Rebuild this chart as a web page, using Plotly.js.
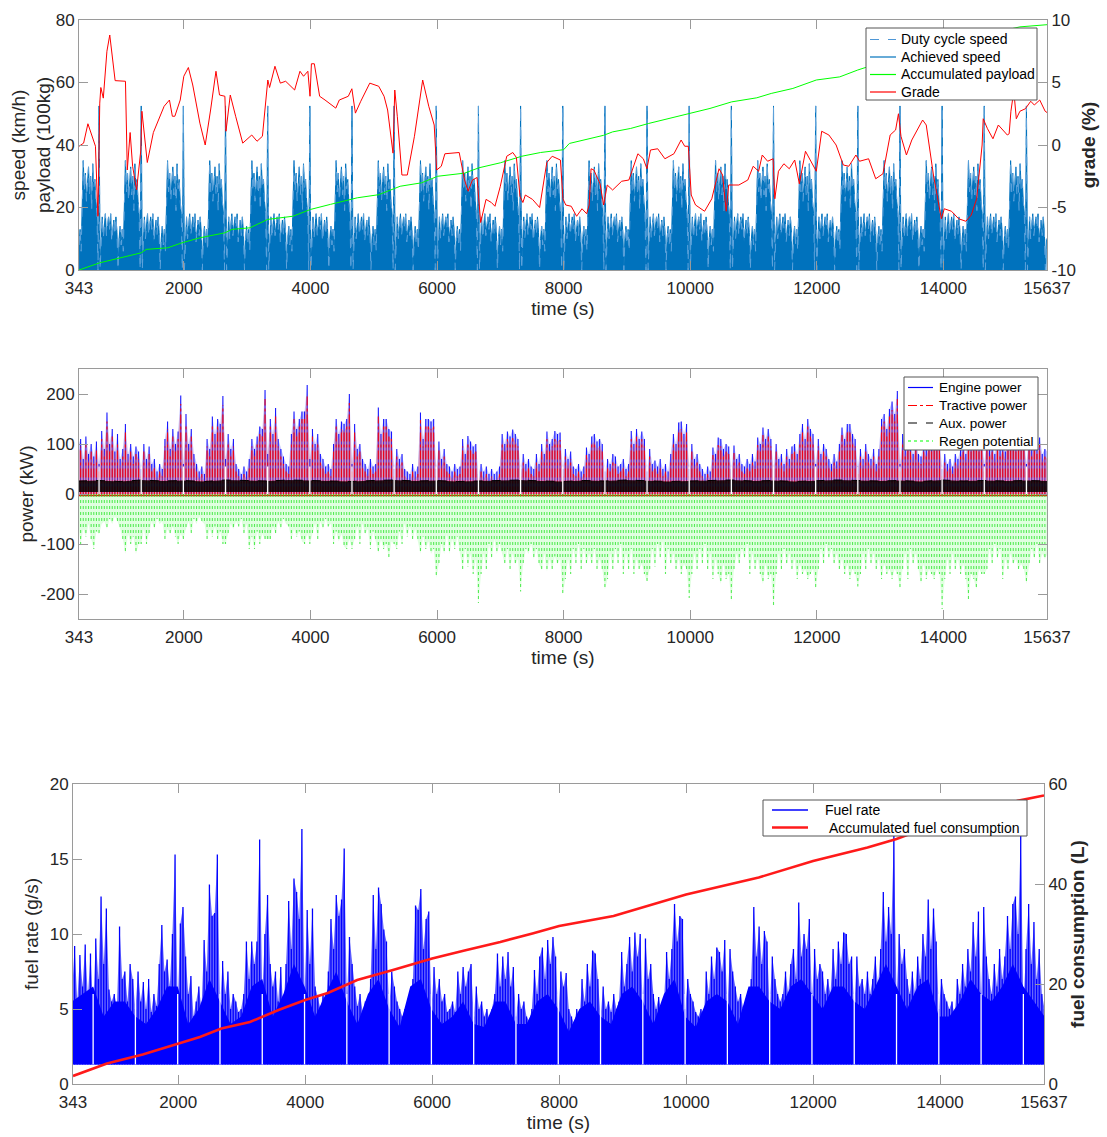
<!DOCTYPE html>
<html>
<head>
<meta charset="utf-8">
<script src="https://cdn.plot.ly/plotly-3.0.1.min.js"></script>
<style>
  html, body { margin: 0; padding: 0; background: #fff; }
  #chart { width: 1107px; height: 1137px; }
</style>
</head>
<body>
<div id="chart"></div>
<script>
// ---------------- DATA ----------------
const timeTicks = [343, 2000, 4000, 6000, 8000, 10000, 12000, 14000, 15637];

// Times (s) at which the vehicle stops at the end of each duty-cycle repetition
const stopTimes = [660, 1326, 1992, 2658, 3324, 3990, 4656, 5322, 5988, 6654, 7320, 7986,
                   8652, 9318, 9984, 10650, 11316, 11982, 12648, 13314, 13980, 14646, 15312];

// One repetition of the duty-cycle speed profile (km/h), one value every 16.65 s,
// starting one sample before the stop; the same cycle is driven over and over.
const cycleSpeed = [0, 52.5, 0, 12, 17, 10, 16, 18, 11, 15, 17, 13, 18, 9, 14, 16, 11, 17, 12, 0,
                    10, 14, 8, 13, 6, 20, 35, 25, 31, 22, 27, 33, 24, 30, 19, 34, 26, 29, 22, 18];
const cycleStep = 16.65;

// Accumulated payload (100 kg)
const payloadT = [343, 671, 896, 1100, 1326, 1405, 1744, 1970, 2253, 2648, 2761, 3044, 3326, 3721, 4004,
  4315, 4654, 4739, 5078, 5417, 5756, 6010, 6435, 6661, 7000, 7338, 7636, 8000, 8091, 8632, 8774, 9059,
  9344, 9572, 9999, 10312, 10654, 11052, 11280, 11622, 11992, 12362, 12647, 13045, 13330, 13672, 14014,
  14469, 14811, 15209, 15637];
const payloadV = [0, 2.3, 3.4, 4.5, 5.5, 6.6, 7.1, 8.7, 10.3, 11.9, 13, 13.5, 16.2, 17.2, 19.4,
  21, 22.6, 23.1, 24.1, 26.8, 27.9, 30, 31, 32.7, 34.3, 36.4, 37.6, 38.5, 40.5, 43.1, 44.2, 45.3,
  46.9, 48, 50.1, 51.7, 53.8, 55.1, 56.5, 58.1, 60.8, 61.8, 64, 66.6, 68.2, 70.9, 72.5,
  74.6, 76.2, 77.8, 78.5];

// Road grade (%)
const gradeT = [343, 416, 484, 546, 603, 642, 671, 688, 727, 784, 829, 914, 1077, 1106, 1151, 1190, 1253,
  1320, 1337, 1422, 1518, 1688, 1772, 1818, 1857, 1942, 1999, 2071, 2140, 2253, 2337, 2422, 2507, 2563,
  2648, 2665, 2733, 2818, 2930, 3072, 3156, 3241, 3326, 3354, 3439, 3524, 3608, 3750, 3834, 3891, 3959,
  3993, 4015, 4061, 4145, 4230, 4400, 4456, 4598, 4654, 4710, 4795, 4937, 5078, 5163, 5219, 5304, 5332,
  5372, 5445, 5530, 5643, 5773, 5869, 5955, 5994, 6067, 6124, 6350, 6435, 6491, 6559, 6632, 6689, 6774,
  6858, 6915, 7000, 7101, 7197, 7254, 7310, 7356, 7395, 7508, 7621, 7734, 7819, 7892, 7949, 7989, 8034,
  8120, 8205, 8290, 8364, 8404, 8433, 8478, 8575, 8632, 8689, 8774, 8917, 9031, 9088, 9173, 9259, 9316,
  9372, 9486, 9600, 9743, 9856, 9913, 9970, 10016, 10084, 10227, 10341, 10398, 10455, 10512, 10569, 10608,
  10654, 10768, 10910, 10995, 11081, 11138, 11223, 11309, 11337, 11394, 11480, 11565, 11651, 11724, 11821,
  11935, 11992, 12077, 12191, 12305, 12419, 12505, 12618, 12675, 12818, 12931, 13045, 13159, 13245, 13290,
  13330, 13416, 13501, 13672, 13729, 13843, 13928, 13968, 14014, 14128, 14241, 14355, 14441, 14526, 14612,
  14629, 14697, 14783, 14868, 14925, 15010, 15039, 15067, 15095, 15110, 15152, 15209, 15295, 15380, 15437,
  15522, 15608, 15637];
const gradeV = [-0.1, 0.15, 1.7, 0.7, -0.1, -5.7, 3.35, 4.6, 3.75, 7.5, 8.8, 5.15, 5.1, -2.0, 1.0, -1.7, -3.6,
  -0.4, 2.7, -1.4, 1.0, 3.1, 3.6, 2.3, 2.3, 3.6, 5.5, 6.2, 4.8, 1.75, 0.0, 2.8, 5.9, 4.0,
  3.9, 1.1, 4.0, 2.3, 0.15, 0.8, 0.3, 0.7, 5.2, 4.6, 6.3, 4.95, 5.1, 4.4, 5.9, 5.5, 5.9,
  3.9, 6.5, 6.5, 3.9, 3.6, 2.95, 3.6, 3.9, 4.5, 2.55, 3.5, 4.95, 4.7, 3.9, 2.8, -0.65, 4.4,
  2.3, -2.4, -2.4, 0.7, 5.2, 3.1, 1.6, -2.0, -1.7, -0.7, -0.6, -2.8, -3.7, -2.8, -2.6, -6.2, -4.35,
  -4.6, -4.9, -3.3, -0.9, -0.6, -1.0, -4.1, -4.6, -4.0, -4.35, -5.0, -1.4, -0.9, -1.1, -1.2, -4.3, -4.8,
  -4.9, -5.7, -5.1, -5.5, -4.8, -1.9, -2.0, -3.1, -4.8, -3.2, -3.6, -2.9, -2.8, -2.0, -0.7, -1.1, -1.9,
  -0.4, -0.3, -1.1, -0.7, 0.4, -0.1, -0.1, -4.0, -4.8, -5.3, -4.3, -3.2, -1.9, -2.4, -5.3, -3.2,
  -3.2, -3.2, -2.8, -1.7, -2.1, -0.8, -1.3, -1.1, -4.3, -2.1, -1.5, -1.9, -1.2, -3.1, -0.5,
  -1.6, -2.1, 1.1, 0.8, 0.0, -1.6, -1.7, -0.8, -1.3, -1.1, -2.7, -2.3, 0.8, 1.2, 2.5,
  0.7, -0.8, 0.4, 2.0, 1.6, -2.4, -4.8, -5.9, -5.1, -5.3, -5.9, -6.1, -5.6, -4.3, 0.0,
  2.1, 1.3, 0.5, 1.6, 1.3, 0.8, 0.9, 2.7, 3.7, 4.5, 2.1, 2.7, 2.9, 3.5, 3.2,
  3.6, 2.7, 2.6];

// Power and fuel rate: one value every 41.625 s starting at t = 327 s (16 per cycle)
const fineStart = 327, fineStep = 41.625;
const enginePower = [
  95,110,70,115,80,100,75,105,
  60,126,90,163,100,130,85,120,70,90,140,80,100,75,95,85,
  50,100,70,95,60,70,45,60,50,110,145,90,130,100,125,197,
  60,160,100,130,80,60,45,55,40,110,90,155,120,150,140,196,
  70,120,90,110,60,50,40,55,45,70,110,90,115,135,130,208,
  80,150,120,172,110,90,75,60,55,120,165,130,150,165,165,218,
  70,130,100,120,80,70,55,60,50,100,150,120,145,140,150,200,
  60,140,90,100,70,60,50,70,55,60,173,120,150,150,130,125,
  50,90,70,80,50,45,40,60,45,55,163,110,150,150,145,150,
  50,105,70,90,60,55,45,60,50,55,110,80,116,105,95,100,
  40,60,45,55,40,50,40,45,55,120,100,125,115,129,120,110,
  50,80,60,70,55,50,80,60,100,80,125,100,110,126,120,123,
  50,90,70,85,55,50,60,45,55,93,80,115,120,105,110,100,
  45,70,60,80,75,55,60,70,50,60,126,100,130,110,125,110,
  45,90,60,67,55,70,50,60,45,80,120,100,143,145,120,140,
  50,100,70,80,60,50,40,55,45,93,80,113,110,90,100,95,
  50,97,70,80,60,55,70,60,80,65,113,100,133,110,130,110,
  50,100,70,80,60,90,70,95,100,80,120,140,110,150,130,120,
  60,110,80,100,90,70,60,80,65,100,133,110,140,140,120,110,
  55,90,70,100,80,70,90,60,90,150,160,130,170,185,160,206,
  60,120,90,110,100,80,110,80,75,100,90,110,100,120,105,110,
  50,80,60,70,55,80,70,90,100,80,120,100,130,110,100,120,
  60,120,90,100,80,110,90,100,85,130,110,120,100,130,110,120,
  60,120,90,110,95,113,80,90,85
];
const tractivePower = [
  80,95,55,100,65,85,60,90,
  45,110,75,145,85,115,70,100,55,75,125,65,85,60,80,70,
  35,85,55,80,45,55,30,45,35,95,130,75,115,85,110,180,
  45,140,85,115,65,45,30,40,25,95,75,140,105,135,125,178,
  55,105,75,95,45,35,25,40,30,55,95,75,100,120,115,190,
  65,135,105,155,95,75,60,45,40,105,150,115,135,150,150,200,
  55,115,85,105,65,55,40,45,35,85,135,105,130,125,135,182,
  45,125,75,85,55,45,35,55,40,45,155,105,135,135,115,110,
  35,75,55,65,35,30,25,45,30,40,148,95,135,135,130,135,
  35,90,55,75,45,40,30,45,35,40,95,65,100,90,80,85,
  25,45,30,40,25,35,25,30,40,105,85,110,100,112,105,95,
  35,65,45,55,40,35,65,45,85,65,110,85,95,110,105,108,
  35,75,55,70,40,35,45,30,40,78,65,100,105,90,95,85,
  30,55,45,65,60,40,45,55,35,45,110,85,115,95,110,95,
  30,75,45,52,40,55,35,45,30,65,105,85,128,130,105,125,
  35,85,55,65,45,35,25,40,30,78,65,98,95,75,85,80,
  35,82,55,65,45,40,55,45,65,50,98,85,118,95,115,95,
  35,85,55,65,45,75,55,80,85,65,105,125,95,135,115,105,
  45,95,65,85,75,55,45,65,50,85,118,95,125,125,105,95,
  40,75,55,85,65,55,75,45,75,135,145,115,155,168,145,190,
  45,105,75,95,85,65,95,65,60,85,75,95,85,105,90,95,
  35,65,45,55,40,65,55,75,85,65,105,85,115,95,85,105,
  45,105,75,85,65,95,75,85,70,115,95,105,85,115,95,105,
  45,105,75,95,80,98,65,75,70
];
const tractiveBraking = -3;   // tractive power during braking (kW)
const regenPower = [
  -60,-100,-70,-85,-60,-90,-110,-75,
  -80,-60,-55,-70,-50,-60,-45,-55,-70,-90,-120,-80,-100,-85,-120,-100,
  -100,-70,-100,-80,-55,-70,-50,-60,-55,-90,-70,-80,-65,-85,-100,-80,
  -90,-70,-55,-80,-50,-60,-45,-55,-60,-90,-70,-85,-65,-90,-75,-100,
  -100,-80,-60,-70,-55,-65,-50,-80,-60,-110,-85,-110,-75,-100,-80,-90,
  -90,-90,-65,-80,-55,-70,-50,-60,-65,-90,-70,-85,-75,-95,-100,-80,
  -100,-80,-60,-90,-55,-70,-50,-65,-60,-100,-75,-95,-80,-105,-110,-90,
  -110,-90,-65,-100,-60,-80,-70,-110,-75,-95,-118,-90,-110,-100,-128,-95,
  -100,-110,-75,-100,-60,-85,-65,-90,-70,-95,-120,-85,-110,-95,-120,-110,
  -168,-140,-100,-120,-80,-120,-90,-110,-85,-120,-150,-110,-145,-120,-160,-130,
  -218,-160,-120,-150,-100,-130,-90,-120,-100,-120,-140,-110,-150,-120,-140,-130,
  -195,-140,-110,-120,-100,-130,-110,-140,-152,-120,-155,-130,-150,-125,-140,-130,
  -201,-170,-130,-160,-110,-140,-100,-150,-110,-140,-120,-140,-110,-150,-130,-150,
  -191,-170,-120,-150,-110,-140,-100,-160,-120,-150,-110,-160,-130,-150,-140,-160,
  -175,-150,-110,-145,-100,-130,-95,-160,-110,-140,-120,-150,-130,-160,-140,-150,
  -208,-160,-120,-150,-110,-140,-100,-150,-120,-170,-130,-160,-180,-140,-170,-160,
  -215,-150,-120,-140,-110,-130,-100,-160,-120,-150,-130,-160,-180,-140,-170,-160,
  -225,-160,-120,-150,-110,-140,-120,-150,-130,-170,-140,-160,-150,-170,-160,-150,
  -190,-150,-110,-140,-100,-130,-110,-140,-120,-150,-130,-160,-140,-170,-150,-160,
  -185,-160,-120,-150,-110,-140,-120,-150,-130,-170,-140,-160,-150,-170,-150,-160,
  -190,-150,-120,-170,-110,-140,-120,-150,-180,-140,-170,-150,-160,-170,-150,-160,
  -230,-170,-130,-160,-120,-150,-130,-160,-140,-170,-210,-160,-170,-190,-150,-160,
  -160,-150,-110,-140,-100,-130,-110,-170,-130,-150,-120,-140,-130,-150,-140,-150,
  -180,-140,-110,-130,-100,-140,-120,-130,-120
];
const fuelRate = [
  6.0,9.2,5.5,8.6,6.5,9.3,5.8,8.7,
  5.0,9.7,7.0,12.5,8.0,11.7,6.3,5.5,6.0,5.2,10.5,7.0,7.5,5.5,8.0,7.0,
  5.0,7.5,5.5,6.8,5.0,7.0,4.8,6.0,5.2,8.0,10.6,7.5,8.3,6.5,10.0,15.3,
  5.0,10.7,11.8,8.5,6.0,7.2,4.5,5.5,6.5,5.0,9.6,7.5,13.3,11.2,11.4,15.3,
  5.0,8.2,6.0,7.5,5.0,6.0,5.5,4.8,5.0,6.0,9.5,7.0,9.5,8.0,9.5,16.3,
  6.0,10.0,12.6,8.0,6.5,7.5,5.5,7.8,5.0,8.0,12.2,9.0,13.7,12.8,11.0,17.0,
  6.0,11.6,8.0,11.7,6.5,5.8,5.0,6.0,4.8,7.5,11.0,9.0,12.6,11.2,12.3,15.7,
  5.5,9.8,8.0,6.5,5.2,6.0,4.8,5.5,5.0,7.0,12.6,9.0,13.1,12.0,10.3,9.5,
  5.0,7.5,6.5,5.5,5.0,4.5,5.0,4.2,5.5,7.0,11.9,11.6,13.0,9.0,11.0,11.5,
  5.0,7.8,6.0,7.0,5.5,6.0,4.8,5.0,5.5,4.8,7.5,6.0,7.8,6.5,7.5,8.0,
  4.5,6.5,5.0,5.5,4.5,5.0,4.2,5.0,6.0,8.7,6.5,8.5,7.0,8.8,6.5,7.8,
  4.5,6.0,5.0,5.5,4.5,4.2,5.0,7.6,6.0,8.5,9.1,7.0,9.6,8.0,9.8,8.5,
  4.5,7.5,6.5,7.4,5.0,4.5,4.0,5.0,4.2,7.0,5.5,8.0,6.5,8.9,8.7,7.0,
  4.5,6.5,5.0,5.5,4.8,6.0,5.0,5.5,8.8,6.5,8.0,9.8,7.5,10.1,8.5,10.0,
  5.0,9.7,7.0,8.0,6.0,5.0,5.8,4.8,5.5,8.8,7.0,9.0,12.0,9.5,11.2,11.0,
  5.0,7.0,6.0,5.5,4.8,4.5,5.0,4.2,7.5,6.0,8.5,7.0,9.1,8.8,7.5,9.6,
  5.0,9.0,7.5,6.5,5.5,6.0,5.0,5.5,4.8,7.0,11.8,8.5,10.5,8.0,10.2,9.5,
  5.0,8.5,7.0,6.0,5.5,6.0,7.5,6.0,8.0,9.0,7.0,12.1,8.5,10.0,9.0,11.0,
  5.5,9.0,7.0,8.0,7.5,6.0,7.0,6.0,9.0,7.0,9.5,8.0,10.1,10.0,8.0,8.5,
  5.0,8.5,6.5,7.0,6.0,7.5,6.0,7.0,8.5,6.5,9.0,12.8,9.5,11.8,10.0,16.7,
  5.5,10.0,8.0,9.0,7.0,6.0,7.5,6.0,8.5,7.0,10.0,8.5,12.3,9.0,11.7,9.5,
  5.0,7.0,6.0,5.5,5.0,5.5,4.5,7.0,6.0,8.0,6.5,9.0,7.5,10.8,8.5,11.5,
  5.5,11.8,8.5,7.0,6.0,8.0,6.5,9.0,7.0,8.5,11.2,9.0,12.0,12.5,10.0,16.7,
  5.0,9.0,12.0,8.0,10.8,7.0,9.0,6.0,5.0
];

// Solid part of the fuel-rate trace (g/s): one value every 166.5 s starting at t = 327 s
const bodyStart = 327, bodyStep = 166.5;
const fuelBody = [5.5, 6.0,
  6.5,4.5,5.5,5.5, 4.5,4.0,5.0,6.5, 6.5,4.0,5.0,7.0, 5.5,4.0,4.5,6.5, 7.0,4.5,6.0,8.0,
  6.5,4.5,6.0,7.5, 5.5,4.0,6.0,7.0, 5.0,3.8,6.5,7.0, 5.0,4.0,4.5,5.5, 4.0,3.8,5.5,5.5,
  4.0,4.0,5.5,6.0, 5.0,3.5,5.0,5.5, 4.5,4.0,6.0,6.5, 5.5,4.0,6.0,7.0, 4.5,3.8,5.5,6.0,
  5.5,4.0,6.5,6.5, 5.5,5.0,6.5,7.0, 6.0,5.0,6.5,6.5, 5.5,5.0,6.5,8.0, 6.5,5.0,6.5,7.0,
  4.5,4.5,5.5,7.0, 6.0,5.5,6.5,8.0, 6.5,5.5,4.5];

// Auxiliary power band (kW): one value every 333 s starting at t = 327 s
const auxStart = 327, auxStep = 333;
const auxHigh = [26,27,25,28,26,27,25,28,27,26,28,27,26,25,27,28,26,27,25,26,27,28,26,25,27,
                 26,28,27,25,26,27,28,26,27,25,26,28,27,26,27,25,28,26,27,26,27,26];
const auxLowLevel = 4;

// Fuel
const fuelIdle = 1.3;
const fuelCumT = [343, 878, 1441, 2000, 2342, 2680, 3130, 3580, 4000, 4356, 4819, 5382, 6000, 6510, 7073,
                  7580, 8000, 8857, 10000, 11143, 12000, 12857, 13314, 14000, 14857, 15637];
const fuelCumV = [1.6, 4.1, 5.9, 8.1, 9.4, 11.1, 12.4, 14.8, 16.8, 18.2, 20.8, 22.8, 25.1, 26.7, 28.4,
                  30.1, 31.6, 33.6, 37.9, 41.3, 44.6, 47.3, 49.0, 52.3, 55.7, 57.7];

// ---------------- BUILD SERIES ----------------
const grid = (start, step, n) => Array.from({length: n}, (_, i) => start + i * step);
const tFine = grid(fineStart, fineStep, enginePower.length);
const tBody = grid(bodyStart, bodyStep, fuelBody.length);
const tAux = grid(auxStart, auxStep, auxHigh.length);

const cycleStarts = [stopTimes[0] - (stopTimes[1] - stopTimes[0])].concat(stopTimes);
const speedT = [], speedV = [];
cycleStarts.forEach(s => {
  cycleSpeed.forEach((v, j) => {
    const t = s + (j - 1) * cycleStep;
    if (t >= 343 && t <= 15637) { speedT.push(t); speedV.push(v); }
  });
});

// vertical strokes from a base level to each value (the look of a dense 1 Hz trace)
function stems(ts, vs, base) {
  const x = [], y = [];
  ts.forEach((t, i) => { x.push(t, t, null); y.push(base, vs[i], null); });
  return {x, y};
}
function stopLines(lo, hi) {
  const x = [], y = [];
  stopTimes.forEach(t => { x.push(t, t, null); y.push(lo, hi, null); });
  return {x, y};
}

const FONT = 'Liberation Sans, Arial, Helvetica, sans-serif';
const TXT = '#262626';
const AX = '#9a9a9a';

const traces = [];
const sc = (o) => Object.assign({type: 'scatter', mode: 'lines', showlegend: false, hoverinfo: 'skip'}, o);

// --- top panel ---
traces.push(sc({x: speedT, y: speedV, xaxis: 'x', yaxis: 'y',
  fill: 'tozeroy', fillcolor: '#0072BD', line: {color: '#0072BD', width: 1}}));
traces.push(sc({x: speedT, y: speedV, xaxis: 'x', yaxis: 'y',
  line: {color: '#5FA3DC', width: 1, dash: 'dash'}}));
traces.push(sc({x: payloadT, y: payloadV, xaxis: 'x', yaxis: 'y', line: {color: '#00FF00', width: 1}}));
traces.push(sc({x: gradeT, y: gradeV, xaxis: 'x', yaxis: 'y2', line: {color: '#FF0000', width: 1}}));

// --- power panel ---
traces.push(sc({x: tFine, y: enginePower, xaxis: 'x2', yaxis: 'y3',
  fill: 'tozeroy', fillcolor: 'rgba(70,70,255,0.3)', line: {color: 'rgba(0,0,255,0)', width: 0}}));
const se = stems(tFine, enginePower, 0);
traces.push(sc({x: se.x, y: se.y, xaxis: 'x2', yaxis: 'y3', line: {color: 'rgba(0,0,255,0.9)', width: 1.1}}));
traces.push(sc({x: tFine, y: tractivePower, xaxis: 'x2', yaxis: 'y3',
  fill: 'tozeroy', fillcolor: 'rgba(255,60,60,0.33)', line: {color: 'rgba(255,0,0,0)', width: 0}}));
const st = stems(tFine, tractivePower, tractiveBraking);
traces.push(sc({x: st.x, y: st.y, xaxis: 'x2', yaxis: 'y3', line: {color: 'rgba(255,0,0,0.9)', width: 1.1, dash: 'dashdot'}}));
traces.push(sc({x: tFine, y: tFine.map(() => tractiveBraking), xaxis: 'x2', yaxis: 'y3',
  line: {color: '#FF0000', width: 1.5}}));
traces.push(sc({x: tAux, y: tAux.map(() => auxLowLevel), xaxis: 'x2', yaxis: 'y3',
  line: {width: 0, color: 'rgba(0,0,0,0)'}}));
traces.push(sc({x: tAux, y: auxHigh, xaxis: 'x2', yaxis: 'y3',
  fill: 'tonexty', fillcolor: 'rgba(0,0,0,0.85)', line: {color: '#000', width: 1, dash: 'dash'}}));
traces.push(sc({x: tFine, y: regenPower, xaxis: 'x2', yaxis: 'y3',
  fill: 'tozeroy', fillcolor: 'rgba(0,255,0,0.12)', line: {color: 'rgba(0,0,0,0)', width: 0}}));
const sr = stems(tFine, regenPower, 0);
traces.push(sc({x: sr.x, y: sr.y, xaxis: 'x2', yaxis: 'y3', line: {color: 'rgba(40,230,40,0.75)', width: 1.1, dash: 'dot'}}));
const sp = stopLines(0, 55);
traces.push(sc({x: sp.x, y: sp.y, xaxis: 'x2', yaxis: 'y3', line: {color: '#fff', width: 1.3}}));

// --- fuel panel ---
traces.push(sc({x: [tFine[0], tFine[tFine.length - 1]], y: [fuelIdle, fuelIdle], xaxis: 'x3', yaxis: 'y4',
  line: {width: 0, color: 'rgba(0,0,0,0)'}}));
traces.push(sc({x: tFine, y: fuelRate, xaxis: 'x3', yaxis: 'y4',
  fill: 'tonexty', fillcolor: 'rgba(0,0,255,0.6)', line: {color: 'rgba(0,0,255,0)', width: 0}}));
traces.push(sc({x: [tBody[0], tBody[tBody.length - 1]], y: [fuelIdle, fuelIdle], xaxis: 'x3', yaxis: 'y4',
  line: {width: 0, color: 'rgba(0,0,0,0)'}}));
traces.push(sc({x: tBody, y: fuelBody, xaxis: 'x3', yaxis: 'y4',
  fill: 'tonexty', fillcolor: '#0000FF', line: {color: '#0000FF', width: 0}}));
const sfu = stems(tFine, fuelRate, fuelIdle);
traces.push(sc({x: sfu.x, y: sfu.y, xaxis: 'x3', yaxis: 'y4', line: {color: '#0000FF', width: 1.3}}));
const sf = stopLines(fuelIdle, 6);
traces.push(sc({x: sf.x, y: sf.y, xaxis: 'x3', yaxis: 'y4', line: {color: '#fff', width: 1.3}}));
traces.push(sc({x: fuelCumT, y: fuelCumV, xaxis: 'x3', yaxis: 'y5', line: {color: '#FF1A1A', width: 2.6}}));

// ---------------- LAYOUT ----------------
const W = 1107, H = 1137;
const px = v => v / W, py = v => 1 - v / H;
const tickFont = {family: FONT, size: 17, color: TXT};
const titleFont = {family: FONT, size: 19, color: TXT};
function xAxis(dom, anchor) {
  return {domain: dom, anchor: anchor, range: [343, 15637], tickmode: 'array',
    tickvals: timeTicks, ticktext: timeTicks.map(String), ticks: 'inside', ticklen: 9,
    tickcolor: AX, showline: true, linecolor: AX, linewidth: 1, mirror: 'ticks',
    showgrid: false, zeroline: false, tickfont: tickFont, ticklabelstandoff: 3,
    title: {text: 'time (s)', font: titleFont, standoff: 4}};
}
function yAxis(dom, anchor, range, vals, title, mirror, standoff) {
  return {domain: dom, anchor: anchor, range: range, tickmode: 'array', tickvals: vals,
    ticktext: vals.map(v => String(v)),
    ticks: 'inside', ticklen: 9, tickcolor: AX, showline: true, linecolor: AX, linewidth: 1,
    mirror: mirror, showgrid: false, zeroline: false, tickfont: tickFont,
    title: {text: title, font: titleFont, standoff: standoff}};
}

// legends (boxes, line samples and labels)
const legendSpecs = [
  {box: [866, 28, 1037, 100], sx: [870, 896], tx: 899, rows: [39.5, 57, 74.5, 92], size: 14, items: [
    {name: 'Duty cycle speed', color: '#4F97D6', width: 1.2, dash: 'dash'},
    {name: 'Achieved speed', color: '#0072BD', width: 1.2, dash: 'solid'},
    {name: 'Accumulated payload', color: '#00FF00', width: 1.2, dash: 'solid'},
    {name: 'Grade', color: '#FF0000', width: 1.2, dash: 'solid'}]},
  {box: [904, 377, 1038, 450], sx: [908, 933], tx: 937, rows: [387.5, 405.5, 423, 441], size: 13.5, items: [
    {name: 'Engine power', color: '#0000FF', width: 1.2, dash: 'solid'},
    {name: 'Tractive power', color: '#FF0000', width: 1.2, dash: 'dashdot'},
    {name: 'Aux. power', color: '#000000', width: 1.2, dash: 'dash'},
    {name: 'Regen potential', color: '#00FF00', width: 1.2, dash: 'dot'}]},
  {box: [763, 800, 1027, 836], sx: [772, 808], tx: 823, rows: [810, 827.5], size: 14, items: [
    {name: 'Fuel rate', color: '#0000FF', width: 1.4, dash: 'solid'},
    {name: ' Accumulated fuel consumption', color: '#FF1A1A', width: 2.6, dash: 'solid'}]}
];
const shapes = [], annotations = [];
legendSpecs.forEach(L => {
  shapes.push({type: 'rect', xref: 'paper', yref: 'paper', x0: px(L.box[0]), x1: px(L.box[2]),
    y0: py(L.box[3]), y1: py(L.box[1]), fillcolor: '#fff', line: {color: '#555', width: 1}, layer: 'above'});
  L.items.forEach((it, i) => {
    shapes.push({type: 'line', xref: 'paper', yref: 'paper', x0: px(L.sx[0]), x1: px(L.sx[1]),
      y0: py(L.rows[i]), y1: py(L.rows[i]), line: {color: it.color, width: it.width, dash: it.dash}, layer: 'above'});
    annotations.push({xref: 'paper', yref: 'paper', x: px(L.tx), y: py(L.rows[i]), xanchor: 'left', yanchor: 'middle',
      text: it.name.replace(/^ /, '&nbsp;'), showarrow: false, font: {family: FONT, size: L.size, color: '#000'}});
  });
});

const layout = {
  width: W, height: H, margin: {l: 0, r: 0, t: 0, b: 0},
  paper_bgcolor: '#fff', plot_bgcolor: '#fff', showlegend: false,
  xaxis: xAxis([px(79), px(1047)], 'y'),
  yaxis: yAxis([py(270), py(20)], 'x', [0, 80], [0, 20, 40, 60, 80], 'speed (km/h)<br>payload (100kg)', false, 0),
  yaxis2: Object.assign(yAxis([py(270), py(20)], 'x', [-10, 10], [-10, -5, 0, 5, 10], '<b>grade (%)</b>', false, 6),
    {overlaying: 'y', side: 'right'}),
  xaxis2: xAxis([px(79), px(1047)], 'y3'),
  yaxis3: yAxis([py(619), py(369)], 'x2', [-250, 250], [-200, -100, 0, 100, 200], 'power (kW)', 'ticks', 1),
  xaxis3: xAxis([px(73), px(1044)], 'y4'),
  yaxis4: yAxis([py(1084), py(784)], 'x3', [0, 20], [0, 5, 10, 15, 20], 'fuel rate (g/s)', false, 6),
  yaxis5: Object.assign(yAxis([py(1084), py(784)], 'x3', [0, 60], [0, 20, 40, 60], '<b>fuel consumption (L)</b>', false, 2),
    {overlaying: 'y4', side: 'right'}),
  shapes: shapes,
  annotations: annotations
};

Plotly.newPlot('chart', traces, layout, {staticPlot: true, displayModeBar: false});
</script>
</body>
</html>
